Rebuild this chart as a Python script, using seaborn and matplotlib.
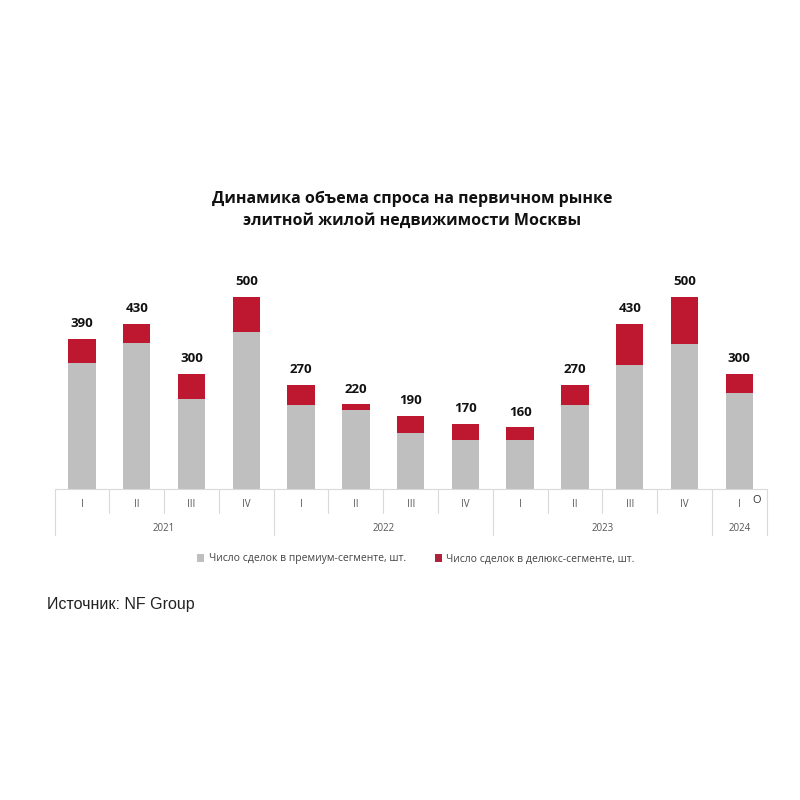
import matplotlib
matplotlib.use("Agg")
import matplotlib.pyplot as plt
import matplotlib.transforms as mtransforms
from matplotlib.patches import Patch
import seaborn as sns
import pandas as pd

# ---- data ----
quarters = ["I", "II", "III", "IV", "I", "II", "III", "IV", "I", "II", "III", "IV", "I"]
years = ["2021", "2021", "2021", "2021", "2022", "2022", "2022", "2022",
         "2023", "2023", "2023", "2023", "2024"]
totals = [390, 430, 300, 500, 270, 220, 190, 170, 160, 270, 430, 500, 300]
premium = [329, 381, 234, 408, 219, 206, 145, 126, 128, 219, 323, 378, 249]
year_labels = ["2021", "2022", "2023", "2024"]
legend_labels = ["Число сделок в премиум-сегменте, шт.",
                 "Число сделок в делюкс-сегменте, шт."]
title = "Динамика объема спроса на первичном рынке\nэлитной жилой недвижимости Москвы"
source = "Источник: NF Group"

GRAY = "#bfbfbf"
RED = "#be1830"

sns.set_theme(style="white")
plt.rcParams['font.family'] = ['Open Sans', 'DejaVu Sans']

df = pd.DataFrame({
    "key": [f"{y}-{q}" for y, q in zip(years, quarters)],
    "total": totals,
    "premium": premium,
})

fig = plt.figure(figsize=(8, 8), dpi=100)
fig.patch.set_facecolor("white")
ax = fig.add_axes([0.0683, 0.389, 0.890, 0.2638])

sns.barplot(data=df, x="key", y="total", color=RED, width=0.5,
            saturation=1, ax=ax, order=list(df["key"]), linewidth=0)
sns.barplot(data=df, x="key", y="premium", color=GRAY, width=0.5,
            saturation=1, ax=ax, order=list(df["key"]), linewidth=0)

ax.set_xlim(-0.5, 12.5)
ax.set_ylim(0, 550)
for s in ax.spines.values():
    s.set_visible(False)
ax.set_xticks([])
ax.set_yticks([])
ax.set_xlabel("")
ax.set_ylabel("")

# value labels
for i, t in enumerate(totals):
    ax.annotate(str(t), (i, t), xytext=(0, 11), textcoords="offset points",
                ha="center", va="center", fontsize=9.5, fontweight="bold",
                color="#111111")

# category table under the axis
trans = mtransforms.blended_transform_factory(ax.transData, ax.transAxes)
axh = 211.0
line_c = "#d9d9d9"
ax.plot([-0.5, 12.5], [0, 0], transform=trans, color=line_c, lw=0.8, clip_on=False)
year_bounds = {0, 4, 8, 12, 13}
for k in range(14):
    x = k - 0.5
    y1 = -46 / axh if k in year_bounds else -24 / axh
    ax.plot([x, x], [0, y1], transform=trans, color=line_c, lw=0.8, clip_on=False)
for i, q in enumerate(quarters):
    ax.text(i, -16 / axh, q, transform=trans, ha="center", va="center",
            fontsize=7, color="#555555")
starts = [0, 4, 8, 12]
ends = [3, 7, 11, 12]
for lab, s, e in zip(year_labels, starts, ends):
    ax.text((s + e) / 2, -40 / axh, lab, transform=trans, ha="center", va="center",
            fontsize=7, color="#555555")
ax.text(12.32, -12 / axh, "O", transform=trans, ha="center", va="center",
        fontsize=8, color="#333333")

# title
fig.text(412 / 800, 1 - 210 / 800, title, ha="center", va="center",
         fontsize=11.5, fontweight="bold", color="#111111", linespacing=1.45)

# legend
handles = [Patch(facecolor=GRAY, edgecolor="none"), Patch(facecolor="#b0203a", edgecolor="none")]
fig.legend(handles, legend_labels, loc="center", bbox_to_anchor=(416 / 800, 1 - 559 / 800),
           ncol=2, frameon=False, fontsize=7.5, handlelength=0.7, handleheight=0.7,
           handletextpad=0.4, columnspacing=2.8, labelcolor="#444444")

# source
fig.text(47 / 800, 1 - 605 / 800, source, ha="left", va="center",
         fontsize=11.5, family=["Liberation Sans", "DejaVu Sans"], color="#222222")

fig.savefig("out.png", dpi=100, facecolor="white")
